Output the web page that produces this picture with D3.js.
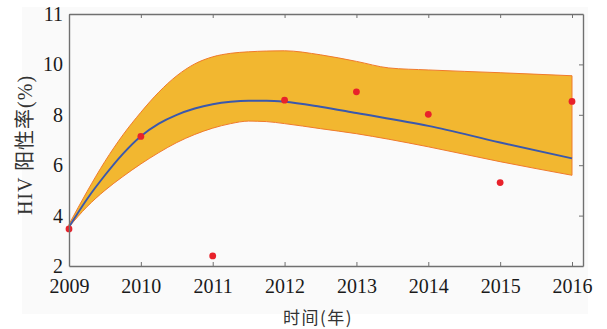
<!DOCTYPE html>
<html>
<head>
<meta charset="utf-8">
<script src="https://cdn.jsdelivr.net/npm/d3@7"></script>
<style>
  html, body { margin: 0; padding: 0; background: #ffffff; }
  svg { display: block; }
  .tick text { font-family: "Liberation Serif", "DejaVu Serif", serif; }
</style>
</head>
<body>
<svg id="chart" width="607" height="329"></svg>
<script>
// Observed HIV positive rate by year
const years = [2009, 2010, 2011, 2012, 2013, 2014, 2015, 2016];
const observed = [3.47, 7.14, 2.40, 8.58, 8.91, 8.02, 5.31, 8.53];

// Fitted trend curve
const fitYears = [2009, 2009.25, 2009.5, 2009.75, 2010, 2010.25, 2010.5, 2010.75, 2011, 2011.25, 2011.5, 2011.75, 2012, 2012.5, 2013, 2014, 2015, 2016];
const fitValues = [3.55, 4.65, 5.6, 6.45, 7.15, 7.65, 8.0, 8.25, 8.42, 8.52, 8.56, 8.56, 8.52, 8.32, 8.07, 7.56, 6.9, 6.27];

// Confidence band around the fit
const bandYears = [2009, 2009.25, 2009.5, 2009.75, 2010, 2010.25, 2010.5, 2010.75, 2011, 2011.25, 2011.5, 2011.75, 2012, 2012.5, 2013, 2013.45, 2014, 2015, 2016];
const bandUpper = [3.65, 4.95, 6.15, 7.2, 8.1, 8.9, 9.55, 10.02, 10.3, 10.44, 10.5, 10.53, 10.54, 10.38, 10.12, 9.86, 9.78, 9.67, 9.55];
const bandLower = [3.55, 4.35, 5.0, 5.55, 6.05, 6.5, 6.9, 7.22, 7.47, 7.65, 7.75, 7.73, 7.65, 7.45, 7.25, 7.03, 6.73, 6.14, 5.6];

// Axis ticks
const xTicks = [2009, 2010, 2011, 2012, 2013, 2014, 2015, 2016];
const yTicks = [2, 4, 6, 8, 10, 12];
const yTickLabels = ["2", "4", "6", "8", "10", "11"];
const xTitle = "时间(年)";
const yTitle = "HIV 阳性率(%)";

const svg = d3.select("#chart");
const plot = { left: 69, right: 583, top: 14, bottom: 266 };

// Figure panel
svg.append("rect").attr("x", 22).attr("y", 7).attr("width", 566).attr("height", 307).attr("fill", "#fafafa");

const x = d3.scaleLinear().domain([2009, 2016.153]).range([plot.left, plot.right]);
const y = d3.scaleLinear().domain([2, 12]).range([plot.bottom, plot.top]);

const band = bandYears.map((t, i) => ({ t, hi: bandUpper[i], lo: bandLower[i] }));
const fit = fitYears.map((t, i) => ({ t, v: fitValues[i] }));
const pts = years.map((t, i) => ({ t, v: observed[i] }));

const area = d3.area().x(d => x(d.t)).y0(d => y(d.lo)).y1(d => y(d.hi)).curve(d3.curveMonotoneX);
svg.append("path").datum(band).attr("d", area)
  .attr("fill", "#f2b730").attr("stroke", "#f07a2c").attr("stroke-width", 1).attr("stroke-linejoin", "round");

const line = d3.line().x(d => x(d.t)).y(d => y(d.v)).curve(d3.curveMonotoneX);
svg.append("path").datum(fit).attr("d", line)
  .attr("fill", "none").attr("stroke", "#3a58ad").attr("stroke-width", 1.9);

svg.append("g").selectAll("circle").data(pts).join("circle")
  .attr("cx", d => x(d.t)).attr("cy", d => y(d.v)).attr("r", 3.4).attr("fill", "#e8222b");

// Axes (box with inward ticks)
const axisColor = "#707070";
const tickFmt = d3.format("d");

const gx = svg.append("g").attr("transform", `translate(0,${plot.bottom})`)
  .call(d3.axisBottom(x).tickValues(xTicks).tickFormat(tickFmt).tickSizeInner(-4).tickSizeOuter(0));
const gxTop = svg.append("g").attr("transform", `translate(0,${plot.top})`)
  .call(d3.axisTop(x).tickValues(xTicks).tickFormat("").tickSizeInner(-4).tickSizeOuter(0));
const gy = svg.append("g").attr("transform", `translate(${plot.left},0)`)
  .call(d3.axisLeft(y).tickValues(yTicks).tickFormat((d, i) => yTickLabels[i]).tickSize(0).tickPadding(6));
const gyRight = svg.append("g").attr("transform", `translate(${plot.right},0)`)
  .call(d3.axisRight(y).tickValues(yTicks).tickFormat("").tickSizeInner(-4).tickSizeOuter(0));

[gx, gxTop, gy, gyRight].forEach(g => {
  g.select(".domain").attr("stroke", axisColor).attr("stroke-width", 1.4);
  g.selectAll(".tick line").attr("stroke", axisColor).attr("stroke-width", 1);
  g.selectAll(".tick text").attr("fill", "#1a1a1a").attr("font-size", 20);
});
gx.selectAll(".tick text").attr("y", 27).attr("dy", 0);

// Axis titles
svg.append("text").attr("x", 318).attr("y", 324).attr("text-anchor", "middle")
  .attr("font-family", "'Noto Sans CJK SC', sans-serif").attr("font-size", 17)
  .attr("letter-spacing", 1.5).attr("fill", "#333").text(xTitle);
svg.append("text").attr("transform", "translate(32,145) rotate(-90)").attr("text-anchor", "middle")
  .attr("font-family", "'Liberation Serif', 'Noto Sans CJK SC', serif").attr("font-size", 20)
  .attr("letter-spacing", 1).attr("fill", "#333").text(yTitle);
</script>
</body>
</html>
